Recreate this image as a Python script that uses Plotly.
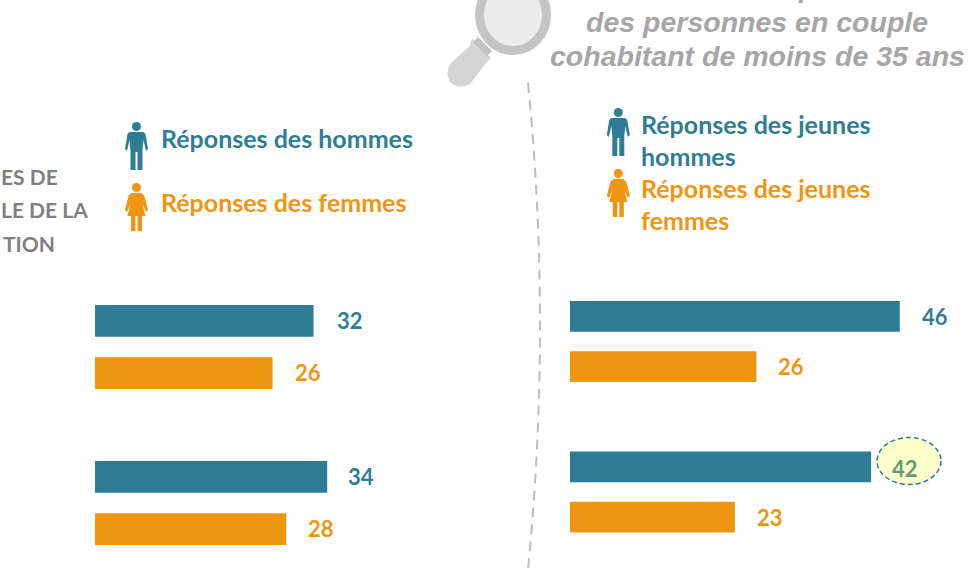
import plotly.graph_objects as go

# ---- data ----
categories = ["Question 1", "Question 2"]
hommes = [32, 34]
femmes = [26, 28]
jeunes_hommes = [46, 42]
jeunes_femmes = [26, 23]

W, H = 970, 576
TEAL = "#2E7D95"
ORANGE = "#EE9511"
FONT = "Lato"


def fx(p):
    return p / W


def fy(p):
    return 1 - p / H


def path(points):
    out = []
    for cmd, *xy in points:
        coords = [f"{fx(xy[i]):.5f},{fy(xy[i + 1]):.5f}" for i in range(0, len(xy), 2)]
        out.append(cmd + " ".join(coords))
    return " ".join(out) + " Z"


def pshape(points, color, **kw):
    return dict(type="path", xref="paper", yref="paper", path=path(points),
                fillcolor=color, line=dict(width=0), **kw)


def circle(cx, cy, rx, ry, **kw):
    return dict(type="circle", xref="paper", yref="paper", x0=fx(cx - rx), x1=fx(cx + rx),
                y0=fy(cy + ry), y1=fy(cy - ry), **kw)


def man(cx, top, color):
    s = [circle(cx, top + 4.5, 4.5, 4.5, fillcolor=color, line=dict(width=0))]
    pts = [("M", cx - 7, top + 10), ("L", cx + 7, top + 10), ("L", cx + 9, top + 12),
           ("L", cx + 11.5, top + 27), ("L", cx + 9.5, top + 29), ("L", cx + 7, top + 18),
           ("L", cx + 6, top + 28), ("L", cx + 6, top + 48), ("L", cx + 1, top + 48),
           ("L", cx + 1, top + 30), ("L", cx - 1, top + 30), ("L", cx - 1, top + 48),
           ("L", cx - 6, top + 48), ("L", cx - 6, top + 28), ("L", cx - 7, top + 18),
           ("L", cx - 9.5, top + 29), ("L", cx - 11.5, top + 27), ("L", cx - 9, top + 12)]
    s.append(pshape(pts, color))
    return s


def woman(cx, top, color):
    s = [circle(cx, top + 4.5, 4.5, 4.5, fillcolor=color, line=dict(width=0))]
    pts = [("M", cx - 5, top + 10), ("L", cx + 5, top + 10), ("L", cx + 8, top + 13),
           ("L", cx + 11.5, top + 27), ("L", cx + 9.5, top + 29), ("L", cx + 6, top + 21),
           ("L", cx + 9, top + 33), ("L", cx + 5.5, top + 33), ("L", cx + 5.5, top + 48),
           ("L", cx + 1, top + 48), ("L", cx + 1, top + 33), ("L", cx - 1, top + 33),
           ("L", cx - 1, top + 48), ("L", cx - 5.5, top + 48), ("L", cx - 5.5, top + 33),
           ("L", cx - 9, top + 33), ("L", cx - 6, top + 21), ("L", cx - 9.5, top + 29),
           ("L", cx - 11.5, top + 27), ("L", cx - 8, top + 13)]
    s.append(pshape(pts, color))
    return s


fig = go.Figure()
for values, color, xa, ya in [
    (hommes, TEAL, "x", "y"),
    (femmes, ORANGE, "x", "y"),
    (jeunes_hommes, TEAL, "x2", "y2"),
    (jeunes_femmes, ORANGE, "x2", "y2"),
]:
    fig.add_trace(go.Bar(y=categories, x=values, orientation="h", marker=dict(color=color, line=dict(width=0)),
                         xaxis=xa, yaxis=ya, offsetgroup=color, showlegend=False, hoverinfo="skip"))

shapes = []
# magnifying glass
shapes.append(pshape([("M", 472, 38), ("L", 491, 58), ("L", 486, 63), ("L", 470, 84), ("Q", 458, 90, 450, 82),
                      ("Q", 444, 72, 452, 62), ("L", 470, 46)], "#D4D4D4"))
shapes.append(pshape([("M", 478, 37), ("L", 484, 43), ("L", 492, 51), ("L", 487, 56), ("L", 473, 42)], "#C2C2C2"))
shapes.append(circle(513, 15, 33.5, 35.5, fillcolor="#ECECEC", line=dict(color="#C4C4C4", width=9)))
# tail of a title letter that is cut by the top edge
shapes.append(pshape([("M", 799, 0), ("L", 803, 0), ("L", 802.5, 3), ("L", 798.5, 3)], "#A6A6A6"))
# dashed divider
shapes.append(dict(type="path", xref="paper", yref="paper",
                   path=f"M{fx(528):.5f},{fy(83):.5f} Q{fx(552):.5f},{fy(325):.5f} {fx(528):.5f},{fy(570):.5f}",
                   line=dict(color="#BDBDBD", width=2, dash="10px,7px")))
# icons
shapes += man(136.5, 122, TEAL) + woman(136.5, 183, ORANGE)
shapes += man(618.3, 108, TEAL) + woman(618.3, 169, ORANGE)
# highlight of the 42 value
shapes.append(circle(909, 461, 32, 23.5, fillcolor="#FFFFCC", line=dict(color=TEAL, width=1.5, dash="5px,3px")))

anns = []


def text(x, y, s, color, size=25, anchor="left", family=FONT, **kw):
    anns.append(dict(x=fx(x), y=fy(y), xref="paper", yref="paper", text=s, showarrow=False,
                     xanchor=anchor, yanchor="middle", font=dict(family=family, size=size, color=color), **kw))


text(159, 138, "<b>Réponses des hommes</b>", TEAL)
text(159, 202, "<b>Réponses des femmes</b>", ORANGE)
text(639, 124, "<b>Réponses des jeunes</b>", TEAL)
text(639, 156, "<b>hommes</b>", TEAL)
text(639, 188, "<b>Réponses des jeunes</b>", ORANGE)
text(639, 220, "<b>femmes</b>", ORANGE)
for y, right, s in [(176, 60, "ES DE"), (210, 90, "LE DE LA"), (243, 57, "TION")]:
    text(right, y, f"<b>{s}</b>", "#7F7F7F", size=21, anchor="right")
for y, s in [(22, "des personnes en couple"), (56, "cohabitant de moins de 35 ans")]:
    text(757, y, f"<b><i>{s}</i></b>", "#A6A6A6", size=28.5, anchor="center", family="Liberation Sans")

# value labels, placed from the data
for vals, i, color, xa, ya, shift, yoff in [
    (hommes, 0, TEAL, "x", "y", 21, -26), (hommes, 1, TEAL, "x", "y", 19, -26),
    (femmes, 0, ORANGE, "x", "y", 20, 26), (femmes, 1, ORANGE, "x", "y", 20, 26),
    (jeunes_hommes, 0, TEAL, "x2", "y2", 20, -25), (jeunes_hommes, 1, "#5F9B75", "x2", "y2", 19, -24),
    (jeunes_femmes, 0, ORANGE, "x2", "y2", 20, 25), (jeunes_femmes, 1, ORANGE, "x2", "y2", 20, 25),
]:
    anns.append(dict(x=vals[i], y=categories[i], xref=xa, yref=ya, text=f"<b>{vals[i]}</b>", showarrow=False,
                     xanchor="left", yanchor="middle", xshift=shift, yshift=-yoff,
                     font=dict(family=FONT, size=22, color=color)))

fig.update_layout(
    width=W, height=H, margin=dict(l=0, r=0, t=0, b=0), paper_bgcolor="white", plot_bgcolor="white",
    barmode="group", bargap=0.33, bargroupgap=0.39, shapes=shapes, annotations=anns, showlegend=False,
    xaxis=dict(domain=[95 / W, 520 / W], range=[0, 425 / 6.83], visible=False, anchor="y"),
    xaxis2=dict(domain=[570 / W, 1], range=[0, 400 / 7.17], visible=False, anchor="y2"),
    yaxis=dict(domain=[0, 1], range=[1.468, -2.224], visible=False, anchor="x"),
    yaxis2=dict(domain=[0, 1], range=[1.558, -2.269], visible=False, anchor="x2"),
)
fig.write_html("out.html", config={"displayModeBar": False},
               post_script="document.body.style.margin='0';document.body.style.overflow='hidden';")
